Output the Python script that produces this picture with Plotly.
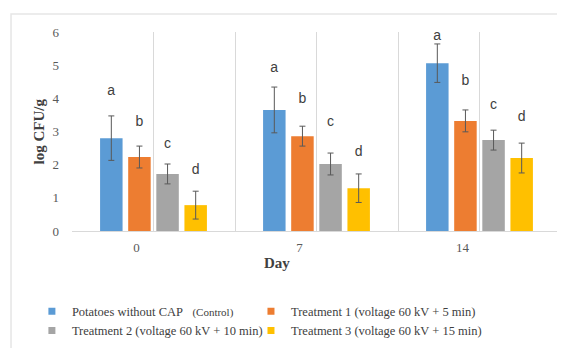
import plotly.graph_objects as go

days = ["0", "7", "14"]
series_names = [
    "Potatoes without CAP\u00a0\u00a0\u00a0<span style='font-size:11px'>(Control)</span>",
    "Treatment 1 (voltage 60 kV + 5 min)",
    "Treatment 2 (voltage 60 kV + 10 min)",
    "Treatment 3 (voltage 60 kV + 15 min)",
]
control = [2.80, 3.65, 5.06]
treat1 = [2.23, 2.86, 3.32]
treat2 = [1.72, 2.02, 2.74]
treat3 = [0.78, 1.29, 2.20]
control_err = [0.67, 0.69, 0.58]
treat1_err = [0.33, 0.30, 0.33]
treat2_err = [0.30, 0.33, 0.30]
treat3_err = [0.42, 0.43, 0.45]
control_letters = ["a", "a", "a"]
treat1_letters = ["b", "b", "b"]
treat2_letters = ["c", "c", "c"]
treat3_letters = ["d", "d", "d"]
control_letter_y = [4.25, 4.94, 5.90]
treat1_letter_y = [3.32, 4.00, 4.55]
treat2_letter_y = [2.65, 3.32, 3.83]
treat3_letter_y = [1.87, 2.41, 3.47]

colors = ["#5B9BD5", "#ED7D31", "#A5A5A5", "#FFC000"]
values = [control, treat1, treat2, treat3]
errs = [control_err, treat1_err, treat2_err, treat3_err]
letters = [control_letters, treat1_letters, treat2_letters, treat3_letters]
letter_ys = [control_letter_y, treat1_letter_y, treat2_letter_y, treat3_letter_y]
legend_ids = ["legend", "legend2", "legend", "legend2"]

xpos = list(range(len(days)))
serif = "Liberation Serif"

fig = go.Figure()
for i in range(4):
    fig.add_trace(go.Bar(
        x=xpos, y=values[i], name=series_names[i], offsetgroup=str(i),
        showlegend=False,
        marker=dict(color=colors[i], line=dict(width=0)),
        error_y=dict(type="data", array=errs[i], color="#595959", thickness=1, width=3),
    ))
for i in range(4):
    half = 0.3
    fig.add_trace(go.Bar(
        x=xpos, y=[2 * half] * len(days), base=[v - half for v in letter_ys[i]],
        offsetgroup=str(i), showlegend=False, hoverinfo="skip",
        marker=dict(color="rgba(0,0,0,0)", line=dict(width=0)),
        text=letters[i], textposition="inside", insidetextanchor="middle",
        constraintext="none", textangle=0,
        textfont=dict(family="Liberation Sans", size=14, color="#404040"),
    ))
# legend entries (square swatches)
for i in range(4):
    fig.add_trace(go.Scatter(
        x=[None], y=[None], mode="markers", name=series_names[i],
        legend=legend_ids[i],
        marker=dict(symbol="square", size=7, color=colors[i]),
    ))

legend_style = dict(
    orientation="v", yanchor="top", y=-0.33, xanchor="left",
    font=dict(family=serif, size=12.5, color="#404040"),
    tracegroupgap=0, traceorder="normal", bgcolor="rgba(0,0,0,0)",
    itemwidth=30,
)

# page body has an 8px margin, so the figure is 8px smaller and margins offset by 8px
fig.update_layout(
    width=557, height=340,
    margin=dict(l=64, r=4, t=24, b=117, autoexpand=False),
    paper_bgcolor="white", plot_bgcolor="white",
    barmode="group", bargap=0.31, bargroupgap=0.2,
    font=dict(family=serif, size=13, color="#595959"),
    xaxis=dict(
        range=[-0.5, 2.5], tickvals=xpos, ticktext=days,
        showgrid=True, gridcolor="#d9d9d9", gridwidth=1,
        minor=dict(tickvals=[-0.5, 0.5, 1.5, 2.5], showgrid=True, gridcolor="#d9d9d9", gridwidth=1),
        showline=True, linecolor="#d9d9d9", linewidth=1,
        ticks="", ticklabelshift=-17, ticklabelstandoff=4,
        tickfont=dict(family=serif, size=13, color="#595959"),
        zeroline=False, automargin=False,
    ),
    yaxis=dict(
        range=[0, 6], dtick=1, showgrid=False, zeroline=False,
        ticks="", ticklabelstandoff=12, automargin=False,
        tickfont=dict(family=serif, size=13, color="#595959"),
    ),
    legend=dict(x=-0.082, **legend_style),
    legend2=dict(x=0.366, **legend_style),
    annotations=[
        dict(text="<b>Day</b>", x=0.42, y=-0.16, xref="paper", yref="paper",
             xanchor="center", yanchor="middle",
             showarrow=False, font=dict(family=serif, size=15, color="#404040")),
        dict(text="<b>log CFU/g</b>", x=-0.0695, y=0.5, xref="paper", yref="paper",
             xanchor="center", yanchor="middle",
             textangle=-90, showarrow=False, font=dict(family=serif, size=15, color="#404040")),
    ],
    shapes=[
        dict(type="rect", xref="paper", yref="paper", x0=-0.1247, x1=1.05, y0=-0.75, y1=1.0905,
             line=dict(color="#e6e6e6", width=1.5), fillcolor="rgba(0,0,0,0)", layer="below"),
    ],
)

fig.write_html("out.html")
